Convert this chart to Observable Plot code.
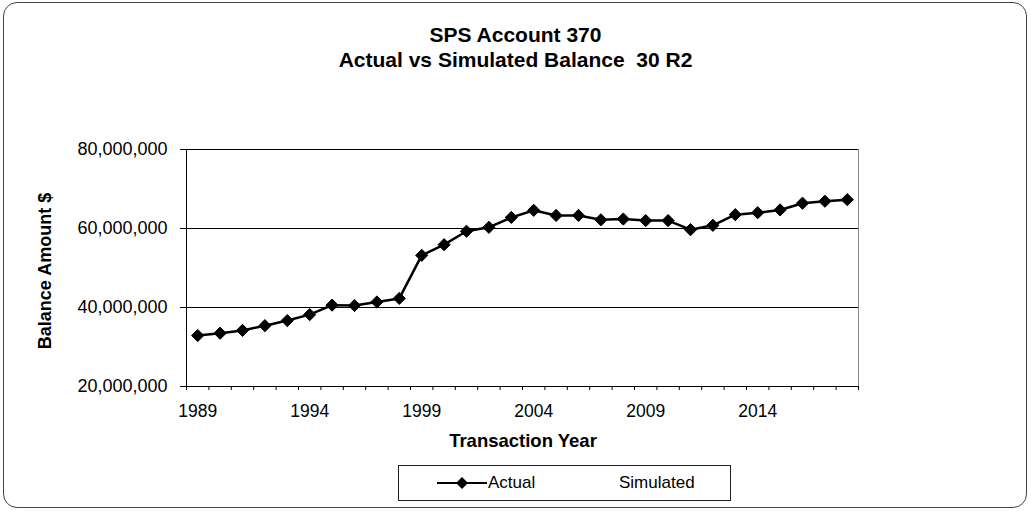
<!DOCTYPE html>
<html>
<head>
<meta charset="utf-8">
<script src="https://cdn.jsdelivr.net/npm/d3@7"></script>
<script src="https://cdn.jsdelivr.net/npm/@observablehq/plot@0.6"></script>
<style>
  body { margin: 0; background: #fff; }
  #chart { position: relative; width: 1031px; height: 511px; font-family: "Liberation Sans", Arial, sans-serif; color: #000; }
  #chart svg.plot { position: absolute; left: 0; top: 0; }
  .frame { position: absolute; left: 3px; top: 2px; width: 1024px; height: 506px; border: 1.5px solid #444; border-radius: 14px; box-sizing: border-box; }
  .title { position: absolute; left: 0; width: 1031px; text-align: center; font-weight: bold; font-size: 21px; line-height: 25px; top: 22px; }
  .ylabel { position: absolute; left: 45px; top: 271px; transform: translate(-50%, -50%) rotate(-90deg); font-weight: bold; font-size: 18px; white-space: nowrap; }
  .xlabel { position: absolute; left: 523px; top: 441px; transform: translate(-50%, -50%); font-weight: bold; font-size: 18.5px; white-space: nowrap; }
  .legend { position: absolute; left: 398px; top: 465px; width: 333px; height: 36px; border: 1px solid #222; box-sizing: border-box; font-size: 17px; }
  .legend .item { position: absolute; top: 8px; display: flex; align-items: center; height: 18px; }
</style>
</head>
<body>
<div id="chart">
  <div class="frame"></div>
</div>
<script>
// Year-end balances of SPS Account 370 (dollars)
const years = [1989, 1990, 1991, 1992, 1993, 1994, 1995, 1996, 1997, 1998,
               1999, 2000, 2001, 2002, 2003, 2004, 2005, 2006, 2007, 2008,
               2009, 2010, 2011, 2012, 2013, 2014, 2015, 2016, 2017, 2018];
const actual = [32.9e6, 33.5e6, 34.2e6, 35.4e6, 36.7e6, 38.2e6, 40.6e6, 40.5e6, 41.4e6, 42.3e6,
                53.2e6, 55.9e6, 59.3e6, 60.3e6, 62.8e6, 64.6e6, 63.3e6, 63.3e6, 62.2e6, 62.4e6,
                62.0e6, 62.0e6, 59.7e6, 60.8e6, 63.5e6, 64.0e6, 64.7e6, 66.4e6, 66.9e6, 67.3e6];
const yTicks = [20e6, 40e6, 60e6, 80e6];
const gridLines = [40e6, 60e6, 80e6];
const labeledYears = [1989, 1994, 1999, 2004, 2009, 2014];

const data = years.map((year, i) => ({year, balance: actual[i]}));
// category boundaries, where the small x ticks sit
const bounds = [years[0] - 0.5, ...years.map(y => y + 0.5)];

const chart = document.getElementById("chart");

const plot = Plot.plot({
  width: 1031,
  height: 511,
  marginLeft: 186,
  marginRight: 173,
  marginTop: 149,
  marginBottom: 125,
  style: {fontFamily: "'Liberation Sans', Arial, sans-serif", fontSize: "16px", color: "#000", background: "transparent"},
  x: {type: "linear", domain: [bounds[0], bounds[bounds.length - 1]]},
  y: {domain: [yTicks[0], yTicks[yTicks.length - 1]]},
  marks: [
    Plot.ruleY(gridLines, {stroke: "#000", strokeWidth: 1}),
    Plot.ruleX([bounds[bounds.length - 1]], {stroke: "#888", strokeWidth: 1}),
    Plot.axisY({ticks: yTicks, tickSize: 6, tickPadding: 13, tickFormat: d3.format(","), label: null, fontSize: 18, stroke: "#000"}),
    Plot.axisX({ticks: bounds, tickSize: 4, tickFormat: () => "", label: null, stroke: "#000"}),
    Plot.axisX({ticks: labeledYears, tickSize: 0, tickPadding: 18, tickFormat: d => String(d), label: null, fontSize: 17.5}),
    Plot.ruleX([bounds[0]], {stroke: "#000", strokeWidth: 1}),
    Plot.ruleY([yTicks[0]], {stroke: "#000", strokeWidth: 1}),
    Plot.line(data, {x: "year", y: "balance", stroke: "#000", strokeWidth: 2.5}),
    Plot.dot(data, {x: "year", y: "balance", symbol: "diamond2", r: 5.5, fill: "#000", stroke: "#000", strokeWidth: 1})
  ]
});
chart.appendChild(plot);

const title = document.createElement("div");
title.className = "title";
title.innerHTML = "SPS Account 370<br>Actual vs Simulated Balance&nbsp;&nbsp;30 R2";
chart.appendChild(title);

const ylab = document.createElement("div");
ylab.className = "ylabel";
ylab.textContent = "Balance Amount $";
chart.appendChild(ylab);

const xlab = document.createElement("div");
xlab.className = "xlabel";
xlab.textContent = "Transaction Year";
chart.appendChild(xlab);

const legend = document.createElement("div");
legend.className = "legend";
legend.innerHTML =
  `<div class="item" style="left:38px">
     <svg width="50" height="18"><line x1="0" y1="9" x2="50" y2="9" stroke="#000" stroke-width="2"/>
     <path d="M25,3L31,9L25,15L19,9Z" fill="#000"/></svg>
     <span style="margin-left:1px">Actual</span></div>
   <div class="item" style="left:220px"><span>Simulated</span></div>`;
chart.appendChild(legend);
</script>
</body>
</html>
